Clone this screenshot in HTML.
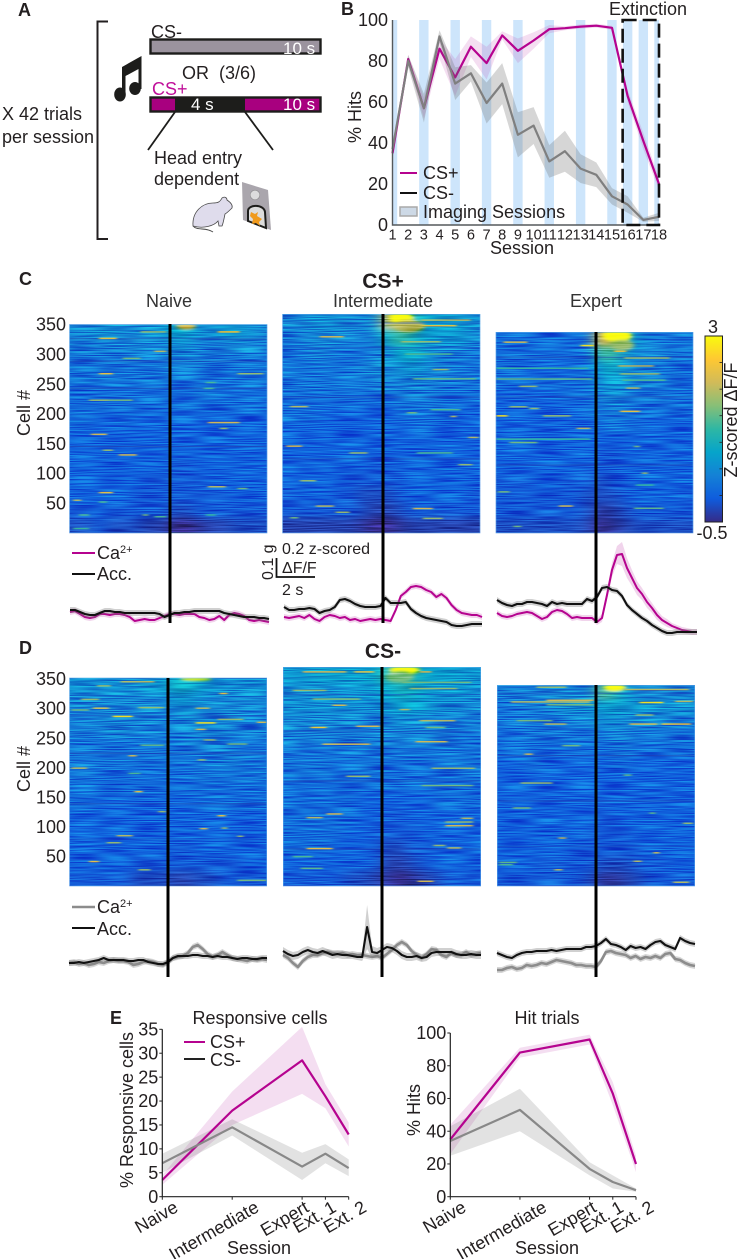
<!DOCTYPE html>
<html lang="en">
<head>
<meta charset="utf-8">
<title>Calcium imaging figure</title>
<style>
  html,body{margin:0;padding:0;background:#fff;}
  svg{display:block;font-family:"Liberation Sans",Arial,sans-serif;}
  text{fill:#231f20;}
</style>
</head>
<body>
<svg id="fig" xmlns="http://www.w3.org/2000/svg" width="740" height="1259" viewBox="0 0 740 1259">
  <defs>
    <filter id="heatBlur" x="-10%" y="-10%" width="120%" height="120%" color-interpolation-filters="sRGB"><feGaussianBlur stdDeviation="7 3.5"/></filter>
    <filter id="hotBlur" x="-30%" y="-50%" width="160%" height="200%" color-interpolation-filters="sRGB"><feGaussianBlur stdDeviation="2.5 1.2"/></filter>
    <filter id="streakBlur" x="-5%" y="-5%" width="110%" height="110%" color-interpolation-filters="sRGB"><feGaussianBlur stdDeviation="1.6 0.25"/></filter>
    <filter id="rowNoise" x="0" y="0" width="100%" height="100%" color-interpolation-filters="sRGB">
      <feTurbulence type="fractalNoise" baseFrequency="0.03 0.83" numOctaves="1" seed="11"/>
      <feColorMatrix type="matrix" values="2.2 0 0 0 -0.6  2.2 0 0 0 -0.6  2.2 0 0 0 -0.6  0 0 0 0 1"/>
    </filter>
    <linearGradient id="parula" x1="0" y1="1" x2="0" y2="0">
      <stop offset="0" stop-color="#352a87"/><stop offset="0.125" stop-color="#0f5cdd"/>
      <stop offset="0.25" stop-color="#1481d6"/><stop offset="0.375" stop-color="#06a4ca"/>
      <stop offset="0.5" stop-color="#2eb7a4"/><stop offset="0.625" stop-color="#87bf77"/>
      <stop offset="0.75" stop-color="#d1bb59"/><stop offset="0.875" stop-color="#fec832"/>
      <stop offset="1" stop-color="#f9fb0e"/>
    </linearGradient>
  </defs>

  <!-- Panel letters -->
  <g font-weight="bold" font-size="18">
    <text x="18" y="16">A</text>
    <text x="341" y="15">B</text>
    <text x="19" y="285">C</text>
    <text x="19" y="654">D</text>
    <text x="110" y="1024">E</text>
  </g>

  <!-- Panel A -->
  <g font-size="18">
    <path d="M108 21.5H97.5V239H108" fill="none" stroke="#231f20" stroke-width="2"/>
    <text x="2" y="120">X 42 trials</text>
    <text x="2" y="143">per session</text>
    <text x="151" y="38">CS-</text>
    <rect x="150.5" y="39.5" width="170" height="14" fill="#9b939e" stroke="#1d1d1b" stroke-width="2.4"/>
    <text x="283" y="54" font-size="17" style="fill:#fff">10 s</text>
    <text x="182" y="79">OR</text>
    <text x="219" y="79">(3/6)</text>
    <text x="152" y="95" style="fill:#c0109a">CS+</text>
    <rect x="150.5" y="97.5" width="170" height="14" fill="#a8007f" stroke="#1d1d1b" stroke-width="2.4"/>
    <rect x="175" y="97" width="70" height="15" fill="#1d1d1b"/>
    <text x="191" y="110" font-size="17" style="fill:#fff">4 s</text>
    <text x="283" y="110" font-size="17" style="fill:#fff">10 s</text>
    <path d="M175 112L148 150" stroke="#1d1d1b" stroke-width="1.8"/>
    <path d="M245 112L273 150" stroke="#1d1d1b" stroke-width="1.8"/>
    <text x="154" y="164">Head entry</text>
    <text x="154" y="185">dependent</text>
    <g fill="#1d1d1b">
      <ellipse cx="120" cy="94.5" rx="5.8" ry="7" />
      <ellipse cx="135" cy="88.5" rx="5.8" ry="6.5" />
      <path d="M122 67L141.5 56V89H138.5V69L125.5 76V95H122Z"/>
    </g>
    <g>
      <path d="M193 226C192 212 202 203 213 203C218 203 220 202 222 198C225 196 227 198 227 200C230 202 233 205 232 208C229 211 227 213 225 214C224 219 223 224 222 226L219 226L218 221C214 226 203 229 193 226Z" fill="#dfdcec" stroke="#4a4a4a" stroke-width="0.8"/>
      <path d="M193 226C197 231 206 227 213 232" fill="none" stroke="#4a4a4a" stroke-width="0.9"/>
    </g>
    <g>
      <polygon points="242,182 268,190 271,230 243,220" fill="#aaa6ad"/>
      <circle cx="255" cy="195" r="4.8" fill="#dcdcdc" stroke="#8d8d8d" stroke-width="0.6"/>
      <path d="M248 221V211C248 204 264 204 265 212L266 228Z" fill="#dcdcdc" stroke="#1d1d1b" stroke-width="2"/>
      <polygon points="251,212 255,214 258,212 257,216 262,219 259,222 260,226 256,223 252,224 253,219 250,216" fill="#f09a1c"/>
    </g>
  </g>

  <!-- Panel B -->
  <g id="panelB"></g>
  <text x="609" y="15" font-size="18">Extinction</text>
  <text x="522" y="254" font-size="18" text-anchor="middle">Session</text>
  <text font-size="18" text-anchor="middle" transform="translate(361 117) rotate(-90)">% Hits</text>

  <!-- Panel C headings -->
  <text x="383" y="288" font-size="21" font-weight="bold" text-anchor="middle">CS+</text>
  <text x="169" y="307" font-size="18" text-anchor="middle" style="fill:#333">Naive</text>
  <text x="383" y="307" font-size="18" text-anchor="middle" style="fill:#333">Intermediate</text>
  <text x="596" y="307" font-size="18" text-anchor="middle" style="fill:#333">Expert</text>
  <text font-size="18" text-anchor="middle" transform="translate(30 413) rotate(-90)">Cell #</text>

  <!-- Panel D headings -->
  <text x="383" y="658" font-size="21" font-weight="bold" text-anchor="middle">CS-</text>
  <text font-size="18" text-anchor="middle" transform="translate(30 769) rotate(-90)">Cell #</text>

  <g id="heatmaps"></g>
  <g id="traces"></g>
  <g id="eventLines"></g>

  <!-- Colour bar -->
  <g id="colorbar">
    <rect x="705" y="336" width="17.5" height="186" fill="url(#parula)" stroke="#222" stroke-width="1"/>
    <text x="713" y="333" font-size="18" text-anchor="middle">3</text>
    <text x="712" y="539" font-size="18" text-anchor="middle">-0.5</text>
    <text font-size="18" text-anchor="middle" transform="translate(737 420) rotate(-90)">Z-scored ΔF/F</text>
  </g>

  <!-- Trace legends and scale bar -->
  <g font-size="18">
    <path d="M72 553H95" stroke="#b5038f" stroke-width="2"/>
    <text x="97" y="559">Ca<tspan font-size="11" dy="-6">2+</tspan></text>
    <path d="M72 574H95" stroke="#111" stroke-width="2"/>
    <text x="97" y="580">Acc.</text>
    <path d="M72 907H95" stroke="#8c8c8c" stroke-width="2.4"/>
    <text x="97" y="913">Ca<tspan font-size="11" dy="-6">2+</tspan></text>
    <path d="M72 928H95" stroke="#111" stroke-width="2"/>
    <text x="97" y="935">Acc.</text>
  </g>
  <g>
    <path d="M276.5 558V577H315" fill="none" stroke="#111" stroke-width="1.8"/>
    <text font-size="16" transform="translate(273 580) rotate(-90)">0.1 g</text>
    <text x="282" y="554" font-size="16">0.2 z-scored</text>
    <text x="282" y="573" font-size="16">ΔF/F</text>
    <text x="282" y="595" font-size="16">2 s</text>
  </g>

  <!-- Panel E -->
  <g id="panelE"></g>
  <text x="260" y="1024" font-size="18" text-anchor="middle">Responsive cells</text>
  <text font-size="18" text-anchor="middle" transform="translate(133 1110) rotate(-90)">% Responsive cells</text>
  <text x="259" y="1254" font-size="18" text-anchor="middle">Session</text>
  <text x="547" y="1024" font-size="18" text-anchor="middle">Hit trials</text>
  <text font-size="18" text-anchor="middle" transform="translate(420 1110) rotate(-90)">% Hits</text>
  <text x="547" y="1254" font-size="18" text-anchor="middle">Session</text>
  <path d="M184 1042H205" stroke="#b5038f" stroke-width="2"/>
  <text x="210" y="1048" font-size="18">CS+</text>
  <path d="M184 1059H205" stroke="#222" stroke-width="2"/>
  <text x="210" y="1066" font-size="18">CS-</text>
</svg>

<script>
// ---------- Panel B data ----------
const sessions = [1,2,3,4,5,6,7,8,9,10,11,12,13,14,15,16,17,18];
const imagingSessions = [1,3,5,7,9,11,13,15,16,17,18];
const hitsPlus = [35,81,57,86,72,87,79,92.5,85,90,95.5,96,96.8,97.2,96.2,63,41,20];
const hitsPlusSem = [3,2,5,5,9,5,8,2,6,4,2,1,1,1,1,3,4,3];
const hitsMinus = [37,80,57,92,69,74,59.5,69,44,48.5,31,36,27.5,24.5,14,10,2.5,4];
const hitsMinusSem = [3,3,7,3,8,4,10,10,11,9,8,10,7,6,4,4,1,2];
const hitTicks = [0,20,40,60,80,100];

// ---------- Panel E data ----------
const stages = ['Naive','Intermediate','Expert','Ext. 1','Ext. 2'];
const stageOrder = [0,3,6,7,8];
const respPlus = [3.5,18,28.5,21,13];
const respPlusLow = [2.5,15,21.5,18.5,10.5];
const respPlusHigh = [4.5,22,35.5,23.5,15.5];
const respMinus = [7,14.5,6.3,9,6];
const respMinusLow = [5,12.8,3.5,7,4.3];
const respMinusHigh = [9,16.2,9.2,11,7.8];
const respTicks = [0,5,10,15,20,25,30,35];
const stageHitsPlus = [35,88,96,63,20];
const stageHitsPlusLow = [26,85,93,56,15];
const stageHitsPlusHigh = [44,91,99,70,25];
const stageHitsMinus = [34,53,17,9,4];
const stageHitsMinusLow = [25,40,13,5,3];
const stageHitsMinusHigh = [43,66,21,13,5];
const stageHitTicks = [0,20,40,60,80,100];

// ---------- Cell axis ----------
const cellTicks = [50,100,150,200,250,300,350];

// ---------- Heatmap band means (tenths of z; rows top→bottom, columns time) ----------
const bandsPlusNaive = [
[5,5,6,6,5,5,6,6,9,8,6,6,7,7,6,5],[4,4,4,4,4,5,4,4,6,6,4,4,4,5,4,4],[3,3,3,3,3,3,3,3,4,4,4,3,3,3,3,3],
[3,3,3,3,3,3,3,3,3,3,3,3,3,3,3,3],[2,2,2,2,2,2,2,2,2,2,3,3,2,2,2,2],[2,2,2,2,2,2,2,2,2,2,2,2,2,2,2,2],
[2,2,1,1,2,1,1,1,1,1,1,1,1,1,1,1],[1,1,1,1,1,1,1,1,1,1,1,1,1,1,1,1],[1,1,1,1,1,1,1,1,1,1,1,1,1,1,1,1],
[1,1,1,1,1,1,1,1,0,0,1,1,1,1,1,1],[1,1,1,1,1,1,0,0,0,0,0,1,1,1,1,1],[1,1,1,1,1,0,0,0,0,0,0,0,0,1,1,1],
[0,0,1,0,0,0,0,0,-1,-1,0,0,0,0,0,0],[-1,-1,0,-1,-1,-1,-2,-2,-4,-4,-3,-2,-2,-1,-1,-1]];
const bandsPlusInter = [
[5,5,6,6,6,5,5,6,22,20,13,9,8,8,7,6],[4,4,5,5,5,4,4,5,10,14,11,8,7,7,7,5],[3,3,4,4,3,3,3,4,5,9,10,7,5,4,4,3],
[3,3,3,3,3,3,4,5,5,6,7,6,4,4,3,3],[3,3,3,3,3,3,3,4,4,4,5,4,4,3,3,3],[2,2,2,2,2,2,2,2,2,3,3,3,3,2,2,2],
[2,2,2,1,1,1,1,1,1,2,2,2,2,2,1,1],[1,1,1,1,1,1,1,1,1,1,1,2,1,1,1,1],[1,1,1,1,1,1,1,1,1,1,1,1,1,1,1,1],
[1,1,1,1,1,1,1,0,0,1,1,1,1,1,1,1],[1,1,1,1,1,0,0,0,0,0,1,1,1,1,1,1],[0,1,1,1,0,0,-1,-1,-1,0,1,1,1,1,1,0],
[0,0,0,0,0,0,-1,-2,-2,-1,0,1,0,0,0,0],[-2,-2,-2,-2,-2,-2,-3,-4,-4,-3,-2,-2,-2,-2,-2,-2]];
const bandsPlusExpert = [
[2,2,2,2,2,2,2,3,24,22,10,6,4,3,3,3],[2,2,2,2,2,2,2,3,14,14,7,5,4,4,3,3],[2,2,1,1,1,1,2,2,8,10,6,5,4,3,3,2],
[2,2,2,2,2,2,2,3,6,7,6,4,4,3,3,2],[1,1,1,1,1,2,2,2,4,6,4,3,3,3,2,2],[1,1,1,1,1,1,1,2,3,4,3,2,2,2,2,2],
[1,1,1,1,1,1,1,1,2,3,2,2,1,1,1,1],[1,1,1,1,1,1,1,1,1,1,1,1,1,1,1,1],[1,1,1,1,1,1,1,1,0,0,1,1,1,1,1,1],
[1,1,1,1,1,1,1,0,0,0,1,1,1,1,1,1],[0,0,0,1,1,0,0,0,-1,0,0,1,1,1,1,1],[0,0,0,0,0,0,0,-1,-1,-1,0,1,1,1,1,0],
[0,0,0,0,0,0,0,-1,-3,-2,-1,0,0,0,0,0],[-1,-1,-1,-1,-1,-1,-1,-2,-4,-3,-2,-1,-1,-1,-1,-1]];
const bandsMinusNaive = [
[6,6,6,6,6,6,7,7,10,10,8,7,6,6,6,6],[5,5,5,5,5,5,5,5,7,7,6,5,5,5,5,5],[4,4,5,5,4,5,5,4,5,6,5,5,5,5,4,4],
[4,4,4,5,5,4,4,4,4,4,5,5,5,4,4,4],[3,3,3,3,3,3,3,3,3,4,4,4,4,3,3,3],[3,3,3,3,3,3,3,3,3,3,3,3,4,4,3,3],
[3,3,2,2,2,2,2,2,2,2,3,3,3,3,3,3],[2,2,2,2,2,2,2,2,2,2,2,2,2,2,2,2],[2,2,1,1,1,1,1,1,1,1,2,2,2,2,2,2],
[1,1,1,1,1,1,1,1,1,1,1,1,1,1,1,1],[1,1,1,1,1,1,1,1,1,1,1,1,1,1,1,1],[1,1,1,1,1,1,1,1,0,0,1,1,1,1,1,1],
[1,1,1,1,1,0,0,0,0,0,0,0,0,0,1,1],[0,0,0,0,0,-1,-1,-1,-2,-2,-1,-1,0,0,0,0]];
const bandsMinusInter = [
[7,7,8,8,8,8,8,9,14,14,12,9,8,8,7,7],[6,6,6,6,6,6,7,7,9,11,10,8,7,7,7,6],[6,6,6,6,6,6,6,6,7,8,8,7,6,6,5,5],
[5,5,5,5,5,5,4,4,5,6,5,5,4,4,4,4],[4,4,4,4,4,4,4,4,4,4,4,4,4,4,3,3],[3,3,3,3,3,3,3,3,3,3,3,3,3,3,3,3],
[3,3,3,3,2,2,3,3,2,2,2,2,2,3,3,3],[2,2,2,2,2,2,2,2,2,2,2,2,2,2,2,2],[2,2,2,2,2,2,1,1,1,1,1,1,2,2,2,2],
[2,2,2,2,2,2,1,1,0,0,1,1,1,1,1,1],[2,2,2,2,2,1,1,0,0,0,0,1,1,1,1,1],[2,2,2,2,1,1,1,0,-1,-1,0,0,1,1,1,1],
[1,1,1,1,1,1,1,0,-2,-2,-1,0,1,1,1,1],[0,0,0,0,0,-1,-1,-2,-3,-4,-3,-2,-1,0,0,0]];
const bandsMinusExpert = [
[4,4,4,4,5,5,5,5,16,12,7,5,5,5,5,5],[3,3,4,4,5,6,6,6,8,8,7,7,6,6,6,6],[3,3,3,3,3,4,4,4,6,6,5,5,5,5,4,4],
[2,2,3,3,3,3,3,3,3,4,4,3,3,3,3,3],[2,2,2,2,2,2,2,2,2,3,3,2,2,2,2,2],[1,1,2,2,1,1,1,1,1,2,2,1,1,1,1,1],
[1,1,1,1,1,1,1,1,1,1,1,1,1,1,1,1],[1,1,1,1,1,1,1,1,1,1,1,1,1,1,1,1],[1,1,1,1,1,1,1,1,0,1,1,1,1,1,1,1],
[1,1,1,1,1,1,1,1,0,0,1,1,1,1,1,1],[1,1,1,1,1,1,1,0,0,0,0,1,1,1,1,1],[1,1,1,1,1,1,0,0,0,0,0,0,1,1,1,1],
[1,1,1,0,0,0,0,0,-1,-1,-1,0,0,0,1,1],[0,0,0,0,0,0,0,-1,-3,-3,-2,-1,0,0,0,0]];

// ---------- Hot patches: [topCell, bottomCell, startPct, endPct, z×10] ----------
const hotPlusNaive = [[355,346,54,64,22]];
const hotPlusInter = [[355,340,54,66,34],[342,325,56,72,20]];
const hotPlusExpert = [[355,338,54,69,36],[338,322,58,70,18]];
const hotMinusNaive = [[355,350,56,72,32]];
const hotMinusInter = [[355,343,54,69,32],[345,330,52,66,16]];
const hotMinusExpert = [[355,344,54,65,34]];

// ---------- Thin single-cell streaks: [cell, startPct, endPct, z×10] ----------
const streaksPlusNaive = [[330,0,100,-3],[292,0,100,-3],[246,0,100,-3],[147,0,100,-3],[331,15,24,24],[342,36,49,18],[342,75,86,26],[309,43,49,20],[297,27,36,16],[271,15,22,24],[271,85,98,18],[256,69,74,14],[246,68,73,14],[226,10,20,18],[226,20,32,16],[188,70,86,22],[178,76,80,18],[168,11,19,22],[133,25,34,22],[141,17,22,18],[79,70,79,20],[76,85,90,16],[69,15,22,24],[56,2,6,20],[53,15,19,14],[31,37,40,16],[28,43,49,14],[31,69,74,13],[31,5,10,14],[8,2,10,13]];
const streaksPlusInter = [[340,0,100,-2],[300,0,100,-2],[220,0,100,-3],[120,0,100,-3],[318,19,31,22],[205,4,13,20],[141,2,10,22],[130,34,43,18],[85,9,17,18],[44,17,26,20],[34,27,34,18],[25,4,8,16],[265,76,84,18],[250,66,98,15],[40,66,76,22],[24,71,81,18],[111,89,96,18],[155,94,99,20],[130,68,86,14],[195,63,68,16],[189,85,88,20],[200,75,90,14],[345,70,95,20],[336,70,88,24],[310,60,80,18],[290,62,86,14]];
const streaksPlusExpert = [[310,0,100,-3],[240,0,100,-3],[120,0,100,-3],[337,4,16,22],[331,43,50,28],[291,0,47,13],[272,0,49,15],[259,12,21,18],[207,0,6,28],[207,24,38,18],[223,7,16,18],[220,17,22,18],[185,41,48,20],[166,0,48,13],[160,7,21,16],[48,32,39,22],[73,1,7,16],[12,9,13,16],[215,63,73,24],[281,63,83,18],[256,66,73,20],[321,60,66,24],[309,65,88,18],[153,70,73,16],[44,70,85,15],[106,74,77,18],[85,71,80,13],[295,62,80,20],[270,64,86,14]];
const streaksMinusNaive = [[290,0,100,-2],[226,0,100,-3],[140,0,100,-3],[80,0,100,-2],[289,22,32,28],[303,12,20,22],[304,35,48,18],[318,6,15,18],[348,26,43,20],[341,14,21,18],[300,1,10,16],[278,64,74,28],[267,64,69,22],[328,76,80,24],[303,64,71,20],[284,75,88,18],[279,95,100,22],[249,68,74,18],[242,80,90,16],[240,36,48,15],[215,65,69,18],[222,30,34,22],[201,1,9,20],[192,30,36,14],[161,33,37,24],[127,45,49,18],[120,75,79,24],[98,66,70,22],[99,77,80,18],[86,24,32,20],[74,19,26,18],[85,85,88,18],[42,10,15,24],[28,35,41,18],[10,85,100,16]];
const streaksMinusInter = [[310,0,100,-2],[250,0,100,-2],[170,0,100,-3],[60,0,100,-3],[347,10,32,22],[347,36,46,24],[317,5,22,18],[303,15,39,17],[293,25,32,22],[257,14,22,26],[259,37,49,22],[230,20,44,22],[178,32,44,18],[117,22,30,22],[111,12,20,20],[61,12,25,24],[48,5,15,14],[29,9,20,15],[234,67,83,22],[268,69,87,20],[286,59,64,20],[347,69,75,22],[257,72,82,16],[191,75,97,18],[163,70,96,16],[104,82,96,18],[98,82,96,22],[110,90,96,20],[66,76,82,18],[62,83,90,20],[8,68,76,22],[330,60,95,16],[320,64,88,18]];
const streaksMinusExpert = [[340,0,100,-2],[230,0,100,-3],[150,0,100,-3],[70,0,100,-2],[351,20,35,18],[325,7,47,20],[328,25,49,22],[320,25,49,16],[292,10,28,16],[286,24,35,20],[248,33,42,16],[233,14,18,22],[182,12,28,18],[138,8,17,16],[85,31,35,20],[29,29,33,20],[42,1,10,15],[38,1,8,14],[324,72,84,28],[326,90,99,20],[286,67,81,22],[286,83,98,24],[302,70,79,18],[347,64,97,20],[196,64,68,15],[111,94,99,18],[59,79,82,22],[44,69,73,20],[7,89,97,20],[129,77,80,15]];

// ---------- Mean traces (amplitude above panel floor, equally spaced in time) ----------
const caPlusNaive = [28,29,26,23,22,23,26,26,25,26,26,25,23,19,20,21,20,20,22,24,26,26,25,26,26,26,23,22,20,21,24,20,25,27,26,24,20,19,20,19,18];
const accPlusNaive = [30,30,28,26,25,25,27,29,29,28,28,27,27,27,27,27,27,27,26,23,25,27,27,28,28,29,29,29,29,29,29,27,26,25,24,23,23,23,22,22,21];
const caPlusInter = [23,22,23,24,22,25,21,19,23,25,24,22,23,20,21,19,20,21,20,21,20,19,30,44,48,53,54,53,50,48,43,46,42,35,30,27,26,25,25,23];
const accPlusInter = [33,30,30,31,31,32,31,27,29,30,33,40,41,39,36,34,33,33,33,34,42,37,37,37,38,31,27,24,22,21,20,19,18,15,14,14,15,16,16,16];
const caPlusExpert = [27,24,23,24,26,27,28,27,24,21,23,28,30,29,26,22,23,22,22,22,18,22,45,70,85,86,72,62,52,46,38,32,25,20,17,14,12,10,9,8,8];
const semPlusExpertCa = [3,3,3,3,3,3,3,3,3,3,3,3,3,3,3,3,3,3,3,3,3,4,5,7,9,12,10,8,7,6,6,5,5,4,4,3,3,3,3,3,3];
const accPlusExpert = [40,37,35,34,36,36,38,38,37,36,34,38,36,37,36,36,36,36,41,39,43,52,53,50,49,44,35,30,26,22,19,15,12,9,7,7,8,8,8,8,8];
const caMinusNaive = [22,23,21,22,20,21,23,22,24,25,24,24,23,20,21,23,24,23,21,20,23,27,28,29,32,38,40,36,31,28,30,33,30,27,26,25,24,26,25,26,25];
const accMinusNaive = [22,22,23,22,23,24,25,27,25,25,25,25,24,24,25,25,23,22,21,21,23,27,29,29,29,30,30,29,29,28,29,28,28,27,26,27,27,26,26,27,27];
const caMinusInter = [30,27,22,18,24,28,30,30,32,33,32,31,32,30,31,30,30,29,28,29,27,31,35,40,43,40,34,30,27,31,36,35,30,28,32,30,30,33,30,31,32];
const accMinusInter = [34,31,29,30,33,35,33,32,34,32,30,31,30,30,29,28,28,58,33,32,35,38,37,34,30,28,28,29,27,28,32,33,33,33,33,31,30,30,31,30,30];
const semMinusInterAcc = [4,4,4,4,4,4,4,4,4,4,4,4,4,4,3,3,4,22,6,5,4,4,4,4,4,4,4,4,4,4,4,4,4,4,4,4,4,4,4,4,4];
const caMinusExpert = [15,15,17,18,16,17,20,19,20,22,21,23,25,24,23,22,20,20,19,19,18,24,33,34,32,31,30,27,29,26,28,27,29,27,31,32,26,25,22,20,19];
const accMinusExpert = [32,30,28,27,30,32,33,33,34,34,34,35,34,35,36,36,36,36,38,38,39,42,46,41,40,38,35,39,37,38,36,40,43,44,40,38,36,47,44,42,41];

// ---------- helpers ----------
const NS = 'http://www.w3.org/2000/svg';
function mk(tag, attrs, parent) {
  const n = document.createElementNS(NS, tag);
  for (const k in attrs) n.setAttribute(k, attrs[k]);
  parent.appendChild(n);
  return n;
}
const parulaStops = [[53,42,135],[15,92,221],[20,129,214],[6,164,202],[46,183,164],[135,191,119],[209,187,89],[254,200,50],[249,251,14]];
function zColor(z) {
  let t = (z + 0.5) / 3.5;
  t = Math.max(0, Math.min(1, t)) * (parulaStops.length - 1);
  const i = Math.min(parulaStops.length - 2, Math.floor(t)), f = t - i;
  const c = [0,1,2].map(k => Math.round(parulaStops[i][k] + (parulaStops[i+1][k] - parulaStops[i][k]) * f));
  return 'rgb(' + c.join(',') + ')';
}
function points(xs, ys) { return xs.map((x, i) => x.toFixed(1) + ',' + ys[i].toFixed(1)).join(' '); }

// ---------- Panel B ----------
(function () {
  const g = document.getElementById('panelB');
  const xS = s => 392.5 + (s - 1) * (659 - 392.5) / 17;
  const yS = v => 225 - v * 2.05;
  imagingSessions.forEach(s => {
    const w = 9.4;
    const x0 = Math.max(xS(1), xS(s) - w / 2), x1 = Math.min(xS(18), xS(s) + w / 2);
    const b = mk('rect', {x: x0, y: yS(100), width: x1 - x0, height: 205, fill: '#cde5fb'}, g);
    
    
  });
  function series(vals, sem, band, line, nm) {
    const xs = sessions.map(xS);
    const up = vals.map((v, i) => yS(Math.min(100, v + sem[i])));
    const lo = vals.map((v, i) => yS(Math.max(0, v - sem[i])));
    const p = mk('polygon', {points: points(xs, up) + ' ' + points(xs.slice().reverse(), lo.slice().reverse()), fill: band}, g);
    
    
    const l = mk('polyline', {points: points(xs, vals.map(yS)), fill: 'none', stroke: line, 'stroke-width': 2.2, 'stroke-linejoin': 'round'}, g);
    
    
  }
  series(hitsPlus, hitsPlusSem, 'rgba(190,60,170,0.17)', '#b5038f', 'cs-plus-hits');
  series(hitsMinus, hitsMinusSem, 'rgba(105,105,105,0.27)', '#7f7f7f', 'cs-minus-hits');
  const ax = mk('path', {d: 'M' + xS(1) + ' ' + yS(100) + 'V' + yS(0) + 'H' + xS(18), fill: 'none', stroke: '#55595c', 'stroke-width': 1.4}, g);
  
  
  hitTicks.forEach(v => {
    const t = mk('text', {x: 388, y: yS(v) + 6.2, 'font-size': 18, 'text-anchor': 'end'}, g);
    t.textContent = v;
    
    
  });
  sessions.forEach(s => {
    const t = mk('text', {x: xS(s), y: 239.5, 'font-size': 14.6, 'text-anchor': 'middle'}, g);
    t.textContent = s;
    
    
  });
  const dash = mk('rect', {x: xS(16) - 5, y: yS(100), width: xS(18) - xS(16) + 5, height: 205, fill: 'none', stroke: '#111', 'stroke-width': 2.6, 'stroke-dasharray': '14 6'}, g);
  
  
  // legend
  const l1 = mk('path', {d: 'M400 173H417', stroke: '#b5038f', 'stroke-width': 2}, g);
  
  
  const l2 = mk('path', {d: 'M400 193H417', stroke: '#111', 'stroke-width': 2}, g);
  
  
  const l3 = mk('rect', {x: 400, y: 207, width: 17, height: 9, fill: '#cdd9e6', stroke: '#a9a9a9', 'stroke-width': 1.5}, g);
  
  
  [['CS+', 179, 'hits-legend-cs-plus-label'], ['CS-', 199, 'hits-legend-cs-minus-label'], ['Imaging Sessions', 218, 'hits-legend-imaging-label']].forEach(e => {
    const t = mk('text', {x: 423, y: e[1], 'font-size': 18}, g);
    t.textContent = e[0];
    
    
  });
})();

// ---------- Heatmaps ----------
const heatmaps = [
  {id: 'cs-plus-naive', x0: 69.3, x1: 267.3, top: 324.3, bottom: 533.3, bands: bandsPlusNaive, hot: hotPlusNaive, streaks: streaksPlusNaive},
  {id: 'cs-plus-intermediate', x0: 282.3, x1: 480.3, top: 314, bottom: 533.3, bands: bandsPlusInter, hot: hotPlusInter, streaks: streaksPlusInter},
  {id: 'cs-plus-expert', x0: 495.7, x1: 693.3, top: 332, bottom: 533.3, bands: bandsPlusExpert, hot: hotPlusExpert, streaks: streaksPlusExpert},
  {id: 'cs-minus-naive', x0: 69.3, x1: 267, top: 677.7, bottom: 886.3, bands: bandsMinusNaive, hot: hotMinusNaive, streaks: streaksMinusNaive},
  {id: 'cs-minus-intermediate', x0: 283, x1: 481, top: 667, bottom: 886.3, bands: bandsMinusInter, hot: hotMinusInter, streaks: streaksMinusInter},
  {id: 'cs-minus-expert', x0: 497, x1: 695, top: 685, bottom: 886.3, bands: bandsMinusExpert, hot: hotMinusExpert, streaks: streaksMinusExpert}
];
(function () {
  const root = document.getElementById('heatmaps');
  const defs = document.querySelector('#fig defs');
  heatmaps.forEach(h => {
    const w = h.x1 - h.x0, ht = h.bottom - h.top;
    const cp = mk('clipPath', {id: 'clip-' + h.id}, defs);
    mk('rect', {x: h.x0, y: h.top, width: w, height: ht}, cp);
    const g = mk('g', {'clip-path': 'url(#clip-' + h.id + ')'}, root);
    
    
    const yCell = c => h.bottom - c * (ht / 355);
    const xPct = p => h.x0 + p / 100 * w;
    const cells = mk('g', {filter: 'url(#heatBlur)'}, g);
    const nR = h.bands.length, nC = h.bands[0].length;
    h.bands.forEach((row, r) => row.forEach((z, c) => {
      const pad = 14;
      const x = h.x0 + c * w / nC - (c === 0 ? pad : 0);
      const y = h.top + r * ht / nR - (r === 0 ? pad : 0);
      const cw = w / nC + (c === 0 || c === nC - 1 ? pad : 0) + 0.5;
      const ch = ht / nR + (r === 0 || r === nR - 1 ? pad : 0) + 0.5;
      const cell = mk('rect', {x: x, y: y, width: cw, height: ch, fill: zColor(z / 10 - 0.1)}, cells);
      
      
    }));
    const hotG = mk('g', {filter: 'url(#hotBlur)'}, g);
    h.hot.forEach(d => {
      const a = yCell(d[0]), b = yCell(d[1]);
      const patch = mk('ellipse', {cx: (xPct(d[2]) + xPct(d[3])) / 2, cy: a + (b - a) * 0.4, rx: (xPct(d[3]) - xPct(d[2])) / 2, ry: (b - a) * 0.6, fill: zColor(d[4] / 10)}, hotG);
      
      
    });
    const noise = mk('rect', {x: h.x0, y: h.top, width: w, height: ht, fill: '#808080', filter: 'url(#rowNoise)', opacity: 0.5, style: 'mix-blend-mode:overlay'}, g);
    
    
    const sG = mk('g', {filter: 'url(#streakBlur)'}, g);
    h.streaks.forEach(d => {
      const st = mk('rect', {x: xPct(d[1]), y: yCell(d[0]) - 0.8, width: (d[2] - d[1]) / 100 * w, height: d[3] < 0 ? 1.1 : 1.5, fill: zColor(d[3] / 10), opacity: d[3] < 0 ? 0.55 : 0.95}, sG);
      
      
    });
    const edge = mk('rect', {x: h.x0 + 0.3, y: h.top + 0.3, width: w - 0.6, height: ht - 0.6, fill: 'none', stroke: '#5aa5ea', 'stroke-width': 0.8, opacity: 0.8}, g);
    
    
  });
  // Cell axes tick labels
  [[533.3, 59.6, 'cs-plus'], [886.3, 59.2, 'cs-minus']].forEach(a => {
    cellTicks.forEach(c => {
      const t = mk('text', {x: 66, y: a[0] - c * a[1] / 100 + 6, 'font-size': 18, 'text-anchor': 'end'}, root);
      t.textContent = c;
      
      
    });
  });
})();

// ---------- Colour bar ticks ----------
const colorTicks = [0,0.5,1,1.5,2,2.5];
(function () {
  const g = document.getElementById('colorbar');
  colorTicks.forEach(z => {
    const y = 522 - (z + 0.5) / 3.5 * 186;
    const t = mk('path', {d: 'M719.5 ' + y + 'H722.5', stroke: '#222', 'stroke-width': 0.8}, g);
    
    
  });
})();

// ---------- Mean traces ----------
const MAGENTA = '#b5038f', GRAY = '#8c8c8c';
const tracePanels = [
  {id: 'cs-plus-naive', x0: 70, x1: 269, floor: 640, ca: caPlusNaive, acc: accPlusNaive, caCol: MAGENTA, caBand: 'rgba(190,60,170,0.22)', caW: 2},
  {id: 'cs-plus-intermediate', x0: 284, x1: 482, floor: 640, ca: caPlusInter, acc: accPlusInter, caCol: MAGENTA, caBand: 'rgba(190,60,170,0.22)', caW: 2},
  {id: 'cs-plus-expert', x0: 497, x1: 697, floor: 640, ca: caPlusExpert, acc: accPlusExpert, caCol: MAGENTA, caBand: 'rgba(190,60,170,0.22)', caSem: semPlusExpertCa, caW: 2},
  {id: 'cs-minus-naive', x0: 69, x1: 267, floor: 985, ca: caMinusNaive, acc: accMinusNaive, caCol: GRAY, caBand: 'rgba(120,120,120,0.3)', caW: 2.6},
  {id: 'cs-minus-intermediate', x0: 283, x1: 481, floor: 985, ca: caMinusInter, acc: accMinusInter, caCol: GRAY, caBand: 'rgba(120,120,120,0.3)', accSem: semMinusInterAcc, caW: 2.6},
  {id: 'cs-minus-expert', x0: 497, x1: 695, floor: 985, ca: caMinusExpert, acc: accMinusExpert, caCol: GRAY, caBand: 'rgba(120,120,120,0.3)', caW: 2.6}
];
(function () {
  const root = document.getElementById('traces');
  function draw(p, vals, sems, col, bandCol, nm, sw) {
    const xs = vals.map((_, i) => p.x0 + i * (p.x1 - p.x0) / (vals.length - 1));
    const yT = v => p.floor - v;
    const up = vals.map((v, i) => yT(v + (sems ? sems[i] : 3)));
    const lo = vals.map((v, i) => yT(v - (sems ? sems[i] : 3)));
    const b = mk('polygon', {points: points(xs, up) + ' ' + points(xs.slice().reverse(), lo.slice().reverse()), fill: bandCol}, root);
    
    
    const l = mk('polyline', {points: points(xs, vals.map(yT)), fill: 'none', stroke: col, 'stroke-width': sw, 'stroke-linejoin': 'round'}, root);
    
    
  }
  tracePanels.forEach(p => {
    draw(p, p.ca, p.caSem, p.caCol, p.caBand, 'calcium', p.caW);
    draw(p, p.acc, p.accSem, '#111', 'rgba(120,120,120,0.35)', 'accelerometer', 2.1);
  });
})();

// ---------- Event lines ----------
const eventLines = [
  {x: 170, top: 324, bottom: 623}, {x: 383, top: 314, bottom: 623}, {x: 596, top: 332, bottom: 623},
  {x: 168, top: 678, bottom: 977}, {x: 382, top: 667, bottom: 977}, {x: 596, top: 685, bottom: 977}
];
(function () {
  const g = document.getElementById('eventLines');
  eventLines.forEach(e => {
    const l = mk('path', {d: 'M' + e.x + ' ' + e.top + 'V' + e.bottom, stroke: '#000', 'stroke-width': 3}, g);
    
    
  });
})();

// ---------- Panel E ----------
const labelNudge = [17,28,8,12,19];
(function () {
  const root = document.getElementById('panelE');
  function chart(o) {
    const xS = k => o.x0 + k * (o.x1 - o.x0) / 8;
    const yS = v => o.y0 - v * (o.y0 - o.yTop) / o.max;
    const xs = stageOrder.map(xS);
    function band(lo, hi, fill, nm) {
      const p = mk('polygon', {points: points(xs, hi.map(yS)) + ' ' + points(xs.slice().reverse(), lo.map(yS).reverse()), fill: fill}, root);
      
      
    }
    function line(vals, col, nm) {
      const l = mk('polyline', {points: points(xs, vals.map(yS)), fill: 'none', stroke: col, 'stroke-width': 2.2, 'stroke-linejoin': 'round'}, root);
      
      
    }
    band(o.pl, o.ph, 'rgba(190,60,170,0.17)', 'cs-plus');
    band(o.ml, o.mh, 'rgba(110,110,110,0.2)', 'cs-minus');
    line(o.p, '#b5038f', 'cs-plus');
    line(o.m, '#888', 'cs-minus');
    const ax = mk('path', {d: 'M' + o.x0 + ' ' + yS(o.max) + 'V' + o.y0 + 'H' + o.x1, fill: 'none', stroke: '#222', 'stroke-width': 1.2}, root);
    
    
    o.ticks.forEach(v => {
      const tk = mk('path', {d: 'M' + (o.x0 - 3) + ' ' + yS(v) + 'H' + o.x0, stroke: '#222', 'stroke-width': 1}, root);
      
      
      const t = mk('text', {x: o.x0 - 4, y: yS(v) + 6.2, 'font-size': 18, 'text-anchor': 'end'}, root);
      t.textContent = v;
      
      
    });
    stages.forEach((s, i) => {
      const tk = mk('path', {d: 'M' + xs[i] + ' ' + o.y0 + 'v3', stroke: '#222', 'stroke-width': 1}, root);
      
      
      const ax0 = xs[i] + labelNudge[i], ay0 = o.y0 + 14;
      const t = mk('text', {x: ax0, y: ay0, 'font-size': 18, 'text-anchor': 'end', transform: 'rotate(-30 ' + ax0 + ' ' + ay0 + ')'}, root);
      t.textContent = s;
      
      
    });
  }
  chart({id: 'responsive', x0: 162.3, x1: 348.7, y0: 1196.7, yTop: 1029.3, max: 35, ticks: respTicks,
    p: respPlus, pl: respPlusLow, ph: respPlusHigh, m: respMinus, ml: respMinusLow, mh: respMinusHigh});
  chart({id: 'hits', x0: 450.3, x1: 636, y0: 1196.7, yTop: 1033, max: 100, ticks: stageHitTicks,
    p: stageHitsPlus, pl: stageHitsPlusLow, ph: stageHitsPlusHigh, m: stageHitsMinus, ml: stageHitsMinusLow, mh: stageHitsMinusHigh});
})();
</script>
</body>
</html>
